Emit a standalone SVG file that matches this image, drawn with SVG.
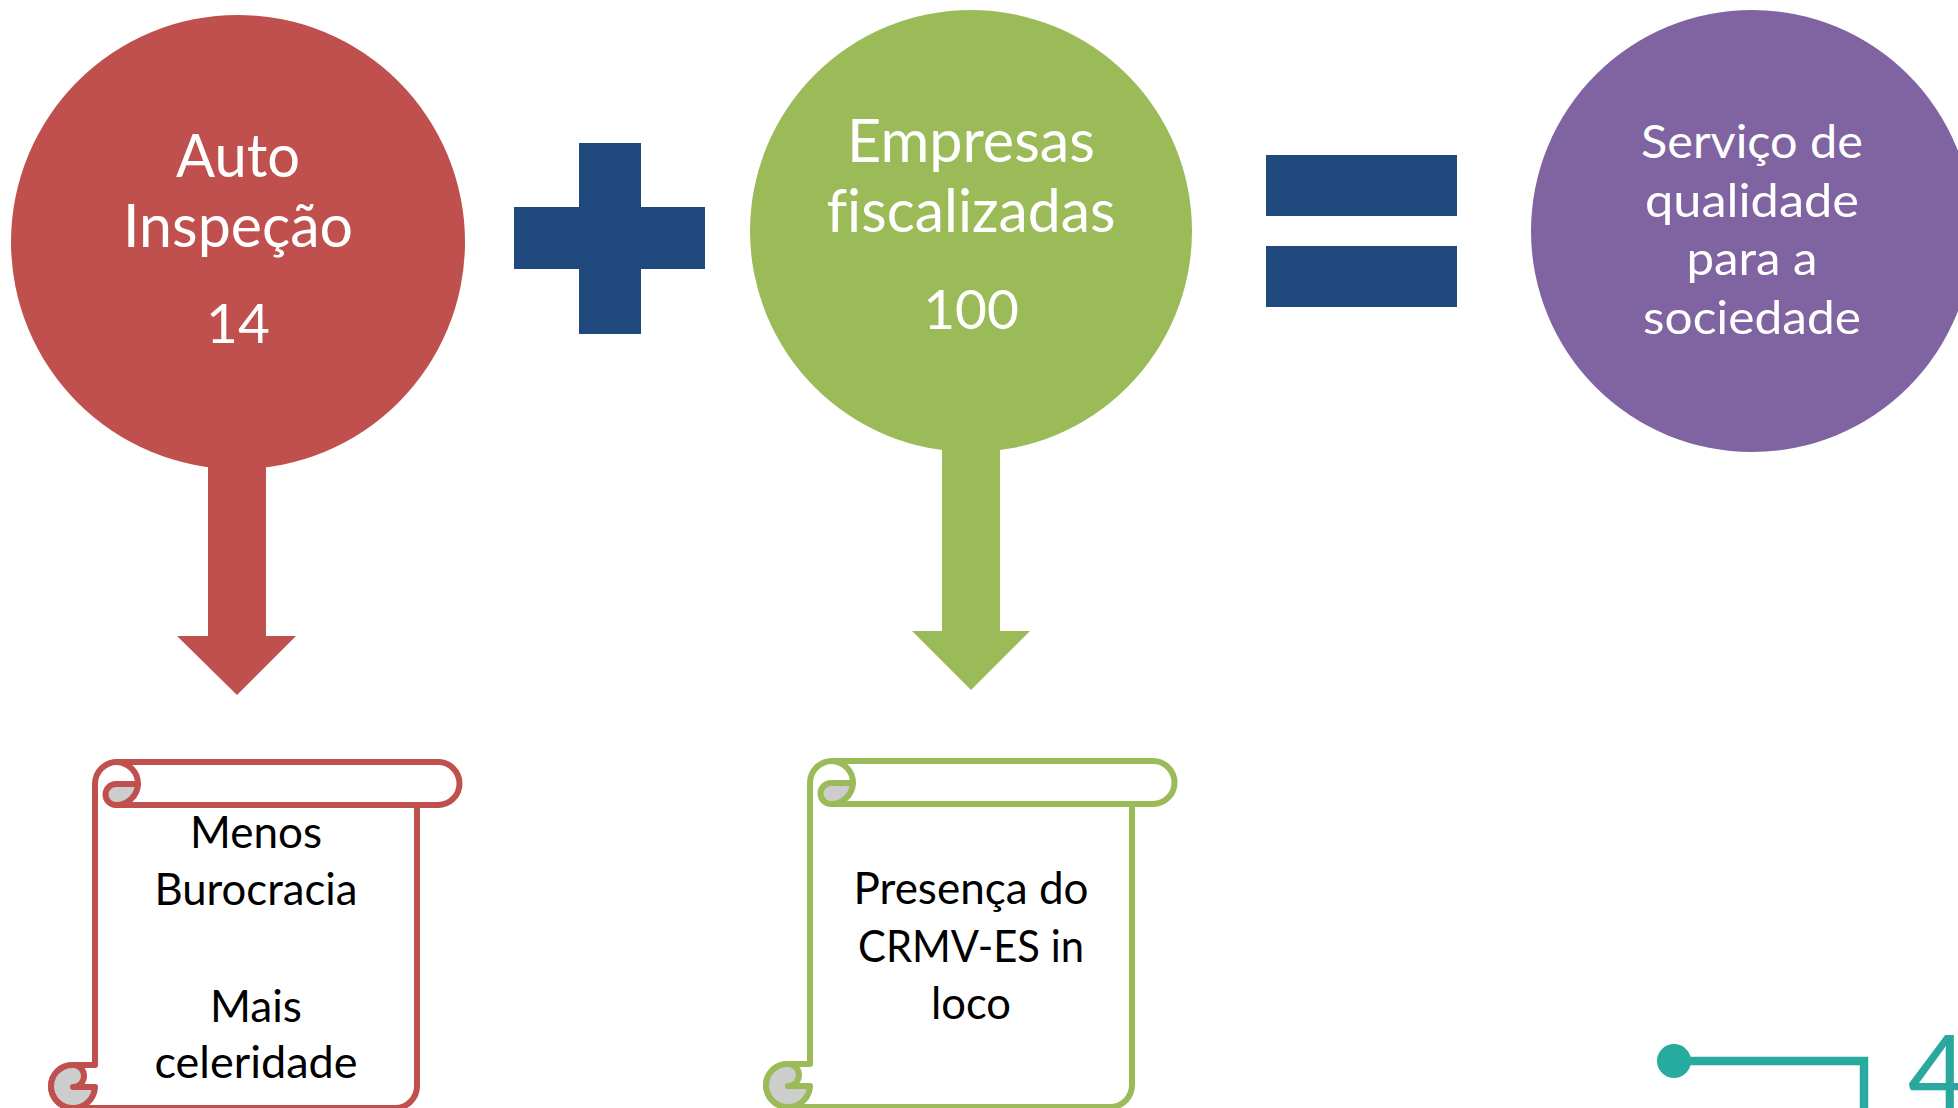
<svg xmlns="http://www.w3.org/2000/svg" xmlns:xlink="http://www.w3.org/1999/xlink" width="1958" height="1108" viewBox="0 0 1958 1108">
<style>
text{font-family:"Lato","Open Sans","Liberation Sans",sans-serif;text-anchor:middle;font-variant-ligatures:none}
.w1{fill:#fff;font-size:60px}
.d{fill:#fff;font-size:55px}
.w2{fill:#fff;font-size:47px}
.b{fill:#000;font-size:44px}
.red{fill:#c0504d}.green{fill:#9bbb59}.purple{fill:#8064a2}.navy{fill:#1f497d}
.scroll{stroke-width:6;stroke-linejoin:round;stroke-linecap:round}
.teal{fill:#26ab9e;stroke:none}
</style>
<defs>
<g id="scroll" class="scroll">
<path fill="#fff" d="M95 784A22 22 0 0 1 117 762H438A21.500 21.500 0 0 1 438 805H417V1086A22 22 0 0 1 395 1108H73A22 22 0 0 1 51 1086A21.500 21.500 0 0 1 73 1065H95Z"/>
<path fill="none" d="M116 805H438"/>
<path fill="#cdcdcd" d="M138 784H116A10.500 10.500 0 0 0 116 805A22 22 0 0 0 138 784Z"/>
<path fill="none" d="M117 762A22 22 0 0 1 138 784"/>
<path fill="#cdcdcd" d="M73 1065A21.500 21.500 0 0 0 51 1086A22 22 0 0 0 73 1108A22 22 0 0 0 95 1087H73A11 11 0 0 0 73 1065Z"/>
</g>
</defs>
<g id="connectors">
<path class="red" d="M208 460H266V636H296L237 695L177 636H208Z"/>
<path class="green" d="M942 445H1000V631H1030L971 690L912 631H942Z"/>
</g>
<g id="node-auto">
<circle class="red" cx="238" cy="242" r="227"/>
<text class="w1" x="238" y="177" textLength="124" lengthAdjust="spacingAndGlyphs">Auto</text>
<text class="w1" x="238" y="247" textLength="230" lengthAdjust="spacingAndGlyphs">Inspeção</text>
<text class="d" x="238" y="343">14</text>
</g>
<g id="node-plus"><path class="navy" d="M579 143H641V207H705V269H641V334H579V269H514V207H579Z"/></g>
<g id="node-empresas">
<circle class="green" cx="971" cy="231" r="221"/>
<text class="w1" x="971" y="162" textLength="248" lengthAdjust="spacingAndGlyphs">Empresas</text>
<text class="w1" x="971" y="232" textLength="289" lengthAdjust="spacingAndGlyphs">fiscalizadas</text>
<text class="d" x="971" y="329">100</text>
</g>
<g id="node-equals"><rect class="navy" x="1266" y="155" width="191" height="61"/><rect class="navy" x="1266" y="246" width="191" height="61"/></g>
<g id="node-servico">
<circle class="purple" cx="1752" cy="231" r="221"/>
<text class="w2" x="1752" y="158" textLength="222" lengthAdjust="spacingAndGlyphs">Serviço de</text>
<text class="w2" x="1752" y="217" textLength="214" lengthAdjust="spacingAndGlyphs">qualidade</text>
<text class="w2" x="1752" y="275" textLength="131" lengthAdjust="spacingAndGlyphs">para a</text>
<text class="w2" x="1752" y="334" textLength="218" lengthAdjust="spacingAndGlyphs">sociedade</text>
</g>
<g id="node-scroll-red">
<use xlink:href="#scroll" href="#scroll" stroke="#c0504d"/>
<text class="b" x="256" y="848" textLength="132" lengthAdjust="spacingAndGlyphs">Menos</text>
<text class="b" x="256" y="905" textLength="203" lengthAdjust="spacingAndGlyphs">Burocracia</text>
<text class="b" x="256" y="1022" textLength="92" lengthAdjust="spacingAndGlyphs">Mais</text>
<text class="b" x="256" y="1078" textLength="203" lengthAdjust="spacingAndGlyphs">celeridade</text>
</g>
<g id="node-scroll-green">
<use xlink:href="#scroll" href="#scroll" stroke="#9bbb59" transform="translate(715 -1)"/>
<text class="b" x="971" y="904" textLength="235" lengthAdjust="spacingAndGlyphs">Presença do</text>
<text class="b" x="971" y="962" textLength="226" lengthAdjust="spacingAndGlyphs">CRMV-ES in</text>
<text class="b" x="971" y="1019" textLength="80" lengthAdjust="spacingAndGlyphs">loco</text>
</g>
<g id="logo">
<circle class="teal" cx="1674" cy="1061" r="17"/>
<path fill="none" stroke="#26ab9e" stroke-width="8.500" d="M1680 1061H1864V1108"/>
<text x="1938" y="1110" style="fill:#2aa8a0;font-size:104px;font-weight:400">4</text>
</g>
</svg>
